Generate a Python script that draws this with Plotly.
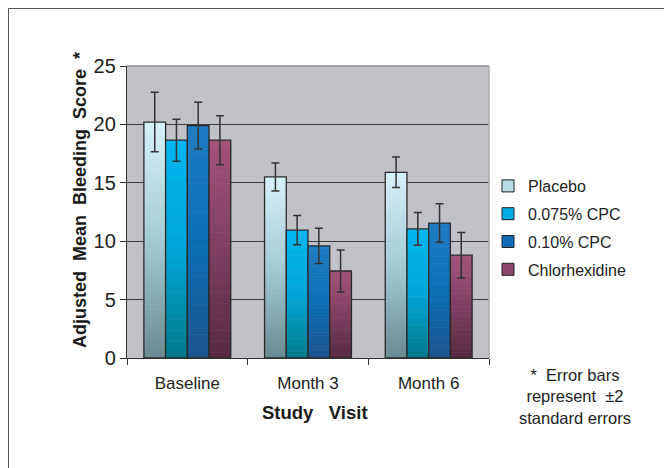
import plotly.graph_objects as go

# ---- data ----
categories = ["Baseline", "Month 3", "Month 6"]
series_names = ["Placebo", "0.075% CPC", "0.10% CPC", "Chlorhexidine"]
placebo = [20.2, 15.5, 15.9]
placebo_err = [2.55, 1.2, 1.3]
cpc075 = [18.65, 10.95, 11.05]
cpc075_err = [1.8, 1.25, 1.4]
cpc010 = [19.9, 9.6, 11.55]
cpc010_err = [2.0, 1.5, 1.65]
chx = [18.65, 7.45, 8.8]
chx_err = [2.1, 1.8, 1.95]
y_ticks = [0, 5, 10, 15, 20, 25]

values = [placebo, cpc075, cpc010, chx]
errors = [placebo_err, cpc075_err, cpc010_err, chx_err]

# gradient stops (bottom, middle, top) per series
gradients = [
    ["#6a8c92", "#a3cbd6", "#d6f0f7"],
    ["#007a8c", "#00a6d8", "#00b5f0"],
    ["#1b5590", "#0b6fb4", "#1f7bc2"],
    ["#582a42", "#7e3f60", "#a15379"],
]
legend_colors = ["#b8dde6", "#00aee6", "#1169b2", "#8a4568"]

def hex2rgb(h):
    h = h.lstrip("#")
    return [int(h[i:i + 2], 16) for i in (0, 2, 4)]

def interp(stops, t):
    if t <= 0.5:
        a, b, u = stops[0], stops[1], t / 0.5
    else:
        a, b, u = stops[1], stops[2], (t - 0.5) / 0.5
    ca, cb = hex2rgb(a), hex2rgb(b)
    c = [round(ca[i] + (cb[i] - ca[i]) * u) for i in range(3)]
    return f"rgb({c[0]},{c[1]},{c[2]})"

BAR_W = 0.18
offsets = [-0.36, -0.18, 0.0, 0.18]
N = 40

fig = go.Figure()

for s, (vals, errs) in enumerate(zip(values, errors)):
    for k in range(N):
        bases = [v * k / N for v in vals]
        heights = [v * (k + 1) / N - v * k / N + (0.04 if k < N - 1 else 0) for v in vals]
        fig.add_trace(go.Bar(
            x=categories, y=heights, base=bases,
            width=BAR_W, offset=offsets[s],
            marker=dict(color=interp(gradients[s], k / (N - 1)), line=dict(width=0)),
            showlegend=False, hoverinfo="skip",
        ))
    # outline + error bars
    fig.add_trace(go.Bar(
        x=categories, y=vals, width=BAR_W, offset=offsets[s],
        marker=dict(color="rgba(0,0,0,0)", line=dict(color="#2a2a2a", width=1.3)),
        error_y=dict(type="data", array=errs, visible=True, color="#333333",
                     thickness=1.5, width=4),
        showlegend=False, name=series_names[s],
    ))

# legend entries
for s in range(4):
    fig.add_trace(go.Bar(
        x=[None], y=[None], name=series_names[s], legendgroup=f"g{s}",
        marker=dict(color=legend_colors[s], line=dict(color="#222222", width=1)),
        showlegend=True,
    ))

FONT = "Liberation Sans, Arial, sans-serif"

# the page body adds an 8px offset; reference plot area in px: x 127..489, y 66..358
OFF = 8
FW, FH = 672 - OFF, 468 - OFF
L, T = 127 - OFF, 66 - OFF
W, H = 362, 292
R, B = FW - L - W, FH - T - H

def px2x(px):
    return (px - OFF - L) / W

def px2y(py):
    return 1 - (py - OFF - T) / H

fig.update_layout(
    width=FW, height=FH,
    margin=dict(l=L, r=R, t=T, b=B, pad=0, autoexpand=False),
    barmode="overlay",
    paper_bgcolor="white",
    plot_bgcolor="#c0c2c8",
    font=dict(family=FONT, size=17, color="#222222"),
    legend=dict(
        x=px2x(488), y=px2y(228), xanchor="left", yanchor="middle",
        font=dict(size=16, color="#222222"),
        bgcolor="rgba(0,0,0,0)", tracegroupgap=4,
    ),
    xaxis=dict(
        type="category", range=[-0.5, 2.5],
        showline=True, linecolor="#333333", linewidth=1.3,
        ticks="outside", tickson="boundaries", ticklen=6, tickcolor="#333333",
        ticklabelstandoff=9,
        tickfont=dict(size=17, color="#222222"), showgrid=False,
    ),
    yaxis=dict(
        range=[0, 25], tickvals=y_ticks,
        showline=True, linecolor="#333333", linewidth=1.3,
        ticks="outside", ticklen=6, tickcolor="#333333",
        tickfont=dict(size=20, color="#222222"),
        showgrid=True, gridcolor="#3a3a3a", gridwidth=1.3, zeroline=False,
    ),
    shapes=[
        # plot top and right borders (gray)
        dict(type="line", xref="paper", yref="paper", x0=0, x1=1, y0=1, y1=1,
             line=dict(color="#8a8c90", width=1.5), layer="above"),
        dict(type="line", xref="paper", yref="paper", x0=1, x1=1, y0=0, y1=1,
             line=dict(color="#a8aaae", width=1.5), layer="above"),
        # outer frame
        dict(type="line", xref="paper", yref="paper",
             x0=px2x(8.5), x1=px2x(680), y0=px2y(8.5), y1=px2y(8.5),
             line=dict(color="#555555", width=1)),
        dict(type="line", xref="paper", yref="paper",
             x0=px2x(8.5), x1=px2x(8.5), y0=px2y(8.5), y1=px2y(476),
             line=dict(color="#555555", width=1)),
    ],
    annotations=[
        dict(text="<b>Adjusted\u00a0\u00a0Mean\u00a0\u00a0Bleeding\u00a0\u00a0Score\u00a0\u00a0*</b>",
             xref="paper", yref="paper", x=px2x(80), y=px2y(200),
             xanchor="center", yanchor="middle", textangle=-90, showarrow=False,
             font=dict(size=18, color="#1a1a1a")),
        dict(text="<b>Study\u00a0\u00a0\u00a0Visit</b>",
             xref="paper", yref="paper", x=px2x(315), y=px2y(412),
             xanchor="center", yanchor="middle", showarrow=False,
             font=dict(size=18.5, color="#1a1a1a")),
        dict(text="*\u00a0\u00a0Error bars<br>represent\u00a0\u00a0\u00b12<br>standard errors",
             xref="paper", yref="paper", x=px2x(575), y=px2y(396),
             xanchor="center", yanchor="middle", showarrow=False, align="center",
             font=dict(size=16.5, color="#222222")),
    ],
)

fig.write_html("out.html")
